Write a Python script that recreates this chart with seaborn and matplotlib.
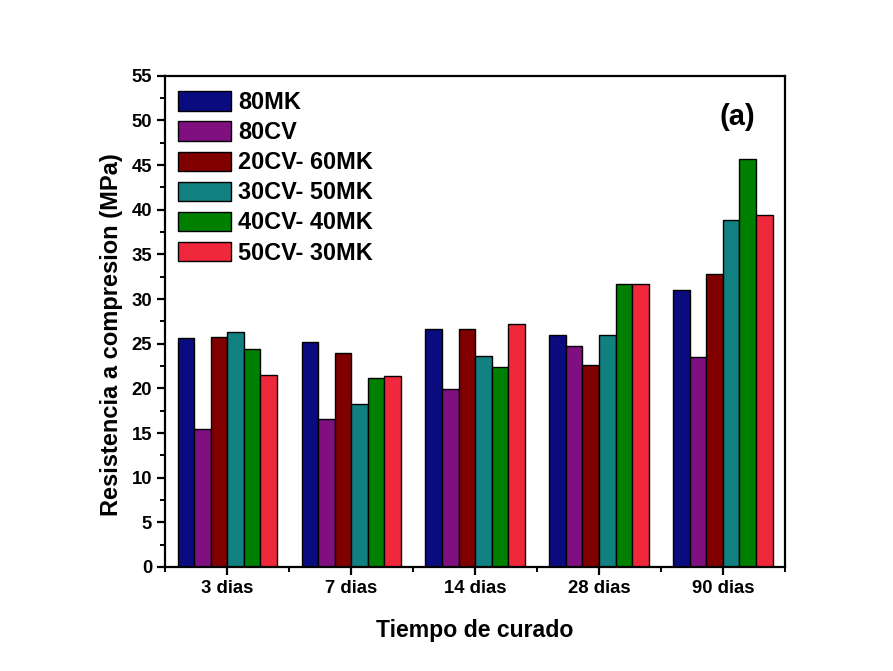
import numpy as np
import pandas as pd
import matplotlib
matplotlib.use("Agg")
import matplotlib.pyplot as plt
import seaborn as sns
from matplotlib.ticker import MultipleLocator, FixedLocator

# Curing times and mix designs
curing_times = ["3 dias", "7 dias", "14 dias", "28 dias", "90 dias"]
mixes = ["80MK", "80CV", "20CV- 60MK", "30CV- 50MK", "40CV- 40MK", "50CV- 30MK"]

# Compressive strength (MPa) for each mix across curing times
s_80mk = [25.6, 25.2, 26.65, 26.0, 31.0]
s_80cv = [15.45, 16.6, 19.9, 24.8, 23.5]
s_20cv_60mk = [25.7, 24.0, 26.6, 22.6, 32.8]
s_30cv_50mk = [26.35, 18.2, 23.6, 26.0, 38.8]
s_40cv_40mk = [24.4, 21.2, 22.35, 31.7, 45.65]
s_50cv_30mk = [21.55, 21.4, 27.2, 31.7, 39.4]

colors = ["#0b0b80", "#801080", "#800000", "#108080", "#008000", "#f0283c"]

series = [s_80mk, s_80cv, s_20cv_60mk, s_30cv_50mk, s_40cv_40mk, s_50cv_30mk]
rows = []
for mix, vals in zip(mixes, series):
    for t, v in zip(curing_times, vals):
        rows.append({"Tiempo": t, "Mezcla": mix, "MPa": v})
df = pd.DataFrame(rows)

sns.set_style("ticks")
plt.rcParams["font.family"] = ["Liberation Sans", "DejaVu Sans"]
plt.rcParams["font.weight"] = "bold"
plt.rcParams["text.color"] = "black"
plt.rcParams["axes.labelcolor"] = "black"
plt.rcParams["xtick.color"] = "black"
plt.rcParams["ytick.color"] = "black"

fig = plt.figure(figsize=(8.93, 6.71), dpi=100)
ax = fig.add_axes([0.185, 0.155, 0.694, 0.732])

sns.barplot(data=df, x="Tiempo", y="MPa", hue="Mezcla", order=curing_times,
            hue_order=mixes, palette=colors, width=0.8, ax=ax,
            edgecolor="black", linewidth=1.0, saturation=1, errorbar=None)

ax.set_xlim(-0.5, 4.5)
ax.set_ylim(0, 55)
ax.yaxis.set_major_locator(MultipleLocator(5))
ax.yaxis.set_minor_locator(MultipleLocator(2.5))
ax.xaxis.set_minor_locator(FixedLocator(np.arange(-0.5, 5.0, 1.0)))

for side in ["top", "right", "left", "bottom"]:
    ax.spines[side].set_visible(True)
    ax.spines[side].set_linewidth(1.6)
    ax.spines[side].set_color("black")

ax.tick_params(axis="both", which="major", direction="out", length=6, width=1.6,
               labelsize=13.3, color="black", labelcolor="black")
ax.tick_params(axis="both", which="minor", direction="out", length=3.5, width=1.4,
               color="black")
for lbl in ax.get_xticklabels() + ax.get_yticklabels():
    lbl.set_fontweight("bold")

ax.set_xlabel("Tiempo de curado", fontsize=16.6, fontweight="bold", labelpad=16,
              color="black")
ax.set_ylabel("Resistencia a compresion (MPa)", fontsize=17, fontweight="bold",
              labelpad=6, color="black")
ax.yaxis.label.set_y(0.473)

leg = ax.legend(loc="upper left", bbox_to_anchor=(0.004, 0.99), frameon=False,
                fontsize=16.9, handlelength=2.25, handleheight=0.9,
                labelspacing=0.3, handletextpad=0.3, borderaxespad=0.0,
                borderpad=0.45)
for txt in leg.get_texts():
    txt.set_fontweight("bold")
    txt.set_color("black")
for h in leg.legend_handles:
    h.set_edgecolor("black")
    h.set_linewidth(1.0)

ax.text(0.923, 0.917, "(a)", transform=ax.transAxes, fontsize=21,
        fontweight="bold", ha="center", va="center", color="black")

fig.savefig("out.png", dpi=100, facecolor="white")
